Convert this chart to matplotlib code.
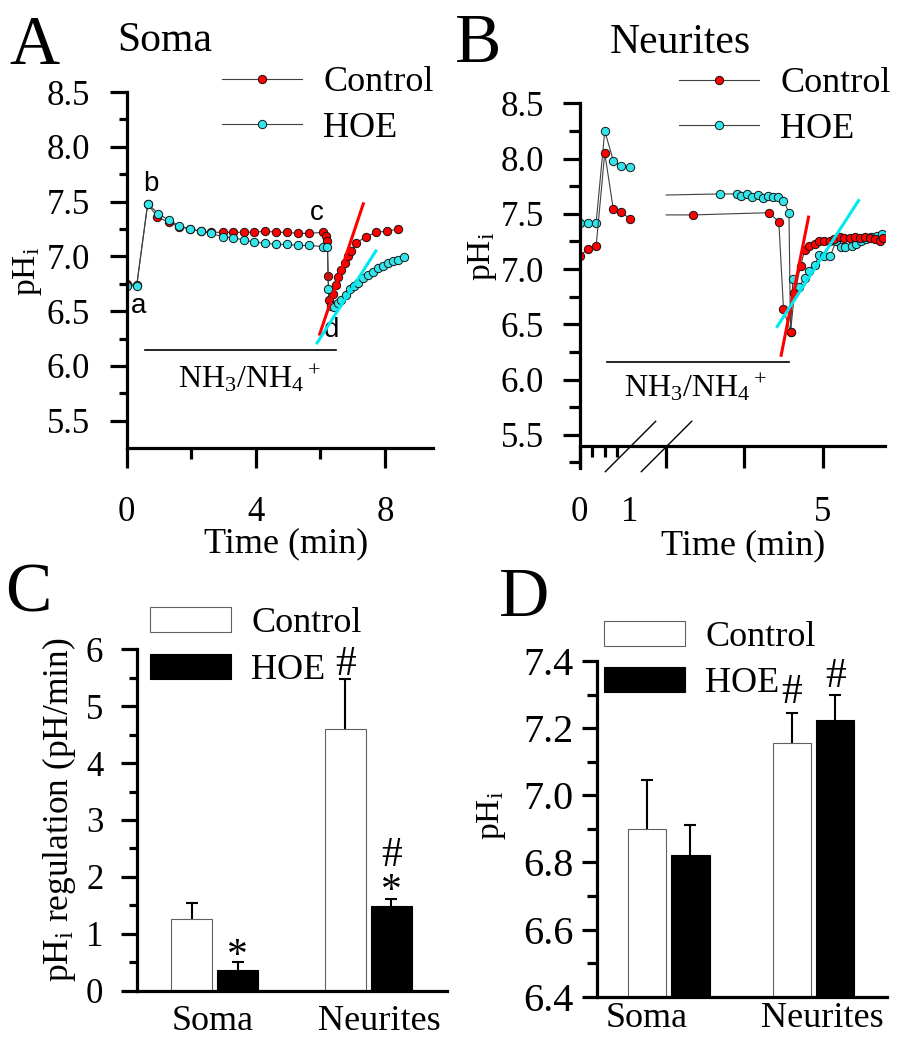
import numpy as np
import matplotlib
matplotlib.use("Agg")
import matplotlib.pyplot as plt

plt.rcParams['font.family'] = ['Liberation Serif', 'DejaVu Serif']
plt.rcParams['mathtext.fontset'] = 'custom'
plt.rcParams['mathtext.rm'] = 'Liberation Serif'
plt.rcParams['mathtext.it'] = 'Liberation Serif:italic'
plt.rcParams['mathtext.bf'] = 'Liberation Serif:bold'

RED = '#ff0000'
CYAN = '#33e5ea'
LINEC = '#404040'

# ---- panel A: soma, time (min) vs pHi ----
soma_t_ctrl = [0, 0.31, 0.65, 0.95, 1.31, 1.63, 1.96, 2.29, 2.61, 2.97, 3.30, 3.63,
               3.95, 4.30, 4.64, 4.97, 5.31, 5.65, 6.09, 6.17, 6.22, 6.24, 6.26, 6.33,
               6.40, 6.47, 6.55, 6.65, 6.75, 6.86, 6.96, 7.09, 7.42, 7.73, 8.07, 8.42]
soma_ph_ctrl = [6.75, 6.74, 7.48, 7.36, 7.31, 7.27, 7.25, 7.23, 7.22, 7.22, 7.22, 7.22,
                7.22, 7.23, 7.22, 7.22, 7.21, 7.21, 7.22, 7.19, 7.14, 6.82, 6.60, 6.56,
                6.66, 6.74, 6.81, 6.88, 6.94, 7.00, 7.05, 7.12, 7.18, 7.22, 7.23, 7.25]
soma_t_hoe = [0, 0.31, 0.65, 0.98, 1.31, 1.63, 1.96, 2.29, 2.61, 2.97, 3.30, 3.63,
              3.95, 4.30, 4.64, 4.97, 5.31, 5.65, 6.07, 6.22, 6.25, 6.33, 6.43, 6.55,
              6.65, 6.79, 6.91, 7.04, 7.17, 7.33, 7.48, 7.64, 7.79, 7.94, 8.10, 8.26,
              8.41, 8.58]
soma_ph_hoe = [6.73, 6.73, 7.48, 7.39, 7.33, 7.28, 7.25, 7.23, 7.21, 7.18, 7.17, 7.15,
               7.13, 7.12, 7.11, 7.11, 7.10, 7.10, 7.09, 7.09, 6.70, 6.55, 6.54, 6.57,
               6.60, 6.65, 6.70, 6.73, 6.76, 6.80, 6.83, 6.86, 6.89, 6.91, 6.94, 6.96,
               6.97, 6.99]
soma_fit_ctrl = ([5.98, 7.33], [6.29, 7.48])
soma_fit_hoe = ([5.90, 7.72], [6.21, 7.05])
soma_nh4 = ([0.57, 6.48], [6.145, 6.145])

# ---- panel B: neurites, split at the axis break ----
# the late parts start where the trace enters from behind the break (t = 3)
neur_t_ctrl_early = [0, 0.17, 0.33, 0.5, 0.67, 0.83, 1.0]
neur_ph_ctrl_early = [7.12, 7.18, 7.21, 8.05, 7.54, 7.52, 7.45]
neur_t_ctrl_late = [3.0, 3.34, 4.31, 4.44, 4.50, 4.59, 4.64, 4.72, 4.77, 4.83, 4.90,
                    4.96, 5.02, 5.09, 5.15, 5.22, 5.28, 5.35, 5.41, 5.48, 5.54, 5.60,
                    5.67, 5.73, 5.77]
neur_ph_ctrl_late = [7.49, 7.49, 7.51, 7.43, 6.64, 6.43, 6.78, 7.03, 7.17, 7.21, 7.23,
                     7.25, 7.25, 7.25, 7.27, 7.29, 7.28, 7.28, 7.29, 7.28, 7.29, 7.28,
                     7.27, 7.25, 7.28]
neur_t_hoe_early = [0, 0.17, 0.33, 0.5, 0.67, 0.83, 1.0]
neur_ph_hoe_early = [7.42, 7.42, 7.42, 8.25, 7.98, 7.93, 7.92]
neur_t_hoe_late = [3.0, 3.69, 3.90, 3.96, 4.03, 4.10, 4.17, 4.24, 4.30, 4.36, 4.43,
                   4.50, 4.57, 4.59, 4.62, 4.70, 4.77, 4.83, 4.90, 4.96, 5.02, 5.10,
                   5.17, 5.23, 5.29, 5.37, 5.43, 5.49, 5.56, 5.62, 5.69, 5.76]
neur_ph_hoe_late = [7.67, 7.68, 7.68, 7.66, 7.68, 7.65, 7.67, 7.64, 7.66, 7.65, 7.65,
                    7.62, 7.51, 6.43, 6.91, 6.84, 6.92, 6.98, 7.04, 7.13, 7.12, 7.12,
                    7.25, 7.20, 7.20, 7.21, 7.23, 7.25, 7.27, 7.29, 7.30, 7.32]
neur_fit_ctrl = ([4.47, 4.82], [6.22, 7.47])
neur_fit_hoe = ([4.42, 5.46], [6.48, 7.62])
neur_nh4 = ([0.55, 4.57], [6.156, 6.156])

# ---- panels C and D ----
groups = ['Soma', 'Neurites']
rate_ctrl = [1.26, 4.60]
rate_ctrl_err = [0.29, 0.88]
rate_hoe = [0.36, 1.48]
rate_hoe_err = [0.15, 0.13]
phi_ctrl = [6.90, 7.155]
phi_ctrl_err = [0.146, 0.09]
phi_hoe = [6.823, 7.225]
phi_hoe_err = [0.088, 0.074]

W, H = 902, 1050
TICK_FS = 25
fig = plt.figure(figsize=(W / 100, H / 100), dpi=100)


def add_axes_px(l, t, r, b):
    return fig.add_axes([l / W, 1 - b / H, (r - l) / W, (b - t) / H])


def fig_text(x, y, s, **kw):
    fig.text(x / W, 1 - y / H, s, **kw)


def style(ax):
    for s in ('top', 'right'):
        ax.spines[s].set_visible(False)
    for s in ('left', 'bottom'):
        ax.spines[s].set_linewidth(2.3)
    ax.tick_params(which='both', direction='out', width=2.3, labelsize=TICK_FS)


def trace(ax, t, ph, color, **kw):
    return ax.plot(t, ph, '-', color=LINEC, lw=0.8, marker='o', ms=6.0,
                   mfc=color, mec='#151515', mew=0.7, **kw)[0]


def trace_legend(ax, handles, x, y):
    ax.legend(handles, ['Control', 'HOE'], loc='upper left',
              bbox_to_anchor=(x / W, 1 - y / H), bbox_transform=fig.transFigure,
              frameon=False, fontsize=26, handlelength=2.22, handletextpad=0.58,
              labelspacing=0.34, borderpad=0, borderaxespad=0, numpoints=1)


ph_fmt = matplotlib.ticker.FormatStrFormatter('%.1f')

# ---------------- A ----------------
axA = add_axes_px(126.7, 92.1, 433, 447.5)
style(axA)
hA_c = trace(axA, soma_t_ctrl, soma_ph_ctrl, RED)
hA_h = trace(axA, soma_t_hoe, soma_ph_hoe, CYAN)
axA.plot(*soma_fit_ctrl, color=RED, lw=2.2, zorder=4)
axA.plot(*soma_fit_hoe, color='#00e8f0', lw=2.2, zorder=4)
axA.plot(*soma_nh4, color='k', lw=1.2)
axA.text(3.80, 5.80, r'NH$_3$/NH$_4{}^+$', ha='center', va='baseline', fontsize=23)
for s, tx, ty in [('a', 0.38, 6.48), ('b', 0.75, 7.60), ('c', 5.89, 7.33), ('d', 6.35, 6.26)]:
    axA.text(tx, ty, s, family='Liberation Sans', fontsize=20, ha='center', va='baseline')
axA.set_xlim(0, 9.49)
axA.set_ylim(5.255, 8.5)
axA.set_xticks([0, 4, 8])
axA.set_xticks([2, 6], minor=True)
axA.set_yticks(np.arange(5.5, 8.51, 0.5))
axA.set_yticks(np.arange(5.75, 8.3, 0.5), minor=True)
axA.yaxis.set_major_formatter(ph_fmt)
axA.tick_params(axis='x', which='major', length=14.7, pad=20.5)
axA.tick_params(axis='x', which='minor', length=8.2)
axA.tick_params(axis='y', which='major', length=12.2, pad=14.2)
axA.tick_params(axis='y', which='minor', length=6.1)
axA.set_xlabel('Time (min)', fontsize=26)
axA.xaxis.set_label_coords(0.522, -0.224)
axA.set_ylabel(r'pH$_\mathrm{i}$', fontsize=24)
axA.yaxis.set_label_coords(-0.27, 0.495)
trace_legend(axA, [hA_c, hA_h], 222, 66)


# ---------------- B (broken time axis) ----------------
def brk_fwd(t):
    t = np.asarray(t, float)
    return np.where(t <= 1, 50.5 * t,
                    np.where(t <= 3, 50.5 + 18.1 * (t - 1), 86.7 + 78.2 * (t - 3)))


def brk_inv(u):
    u = np.asarray(u, float)
    return np.where(u <= 50.5, u / 50.5,
                    np.where(u <= 86.7, 1 + (u - 50.5) / 18.1, 3 + (u - 86.7) / 78.2))


axB = add_axes_px(579.5, 103.3, 885, 468)
style(axB)
axB.set_xscale('function', functions=(brk_fwd, brk_inv))
hB_h = trace(axB, neur_t_hoe_early, neur_ph_hoe_early, CYAN)
trace(axB, neur_t_hoe_late, neur_ph_hoe_late, CYAN, markevery=slice(1, None))
hB_c = trace(axB, neur_t_ctrl_early, neur_ph_ctrl_early, RED)
trace(axB, neur_t_ctrl_late, neur_ph_ctrl_late, RED, markevery=slice(1, None))
axB.plot(*neur_fit_ctrl, color=RED, lw=2.2, zorder=4)
axB.plot(*neur_fit_hoe, color='#00e8f0', lw=2.2, zorder=4)
axB.plot(*neur_nh4, color='k', lw=1.2)
axB.text(3.37, 5.85, r'NH$_3$/NH$_4{}^+$', ha='center', va='baseline', fontsize=23)
axB.set_xlim(0, 5.798)
axB.set_ylim(5.2, 8.5)
axB.spines['bottom'].set_position(('data', 5.40))
# break marks on the time axis
axB.plot([1, 3], [5.40, 5.40], ls='none', marker=[(-1, -1), (1, 1)], ms=37,
         mec='k', mew=1.0, clip_on=False, zorder=5)
axB.set_xticks([0, 1, 3, 4, 5])
axB.set_xticklabels(['0', '1', '', '', '5'])
axB.set_xticks([0.25, 0.5, 0.75], minor=True)
axB.xaxis.set_minor_formatter(matplotlib.ticker.NullFormatter())
axB.xaxis.get_major_ticks()[1].tick1line.set_visible(False)
axB.set_yticks(np.arange(5.5, 8.51, 0.5))
axB.set_yticks(np.arange(5.25, 8.3, 0.5), minor=True)
axB.yaxis.set_major_formatter(ph_fmt)
axB.tick_params(axis='x', which='major', length=15.6, pad=20.3)
axB.tick_params(axis='x', which='minor', length=7.7)
axB.tick_params(axis='y', which='major', length=11.9, pad=13.8)
axB.tick_params(axis='y', which='minor', length=7.9)
axB.set_xlabel('Time (min)', fontsize=26)
axB.xaxis.set_label_coords(0.537, -0.167)
axB.set_ylabel(r'pH$_\mathrm{i}$', fontsize=24)
axB.yaxis.set_label_coords(-0.263, 0.58)
trace_legend(axB, [hB_c, hB_h], 679, 67)


# ---------------- C and D (bars) ----------------
def bar_panel(ax, ctrl, ctrl_err, hoe, hoe_err):
    x = np.arange(len(groups))
    bw, off = 0.265, 0.15
    bc = ax.bar(x - off, ctrl, bw, color='white', edgecolor='#606060', lw=0.8)
    bh = ax.bar(x + off, hoe, bw, color='black', edgecolor='black', lw=0.8)
    for xs, v, e in [(x - off, ctrl, ctrl_err), (x + off, hoe, hoe_err)]:
        eb = ax.errorbar(xs, v, yerr=[np.zeros(len(v)), e], fmt='none', ecolor='k',
                         elinewidth=1.5, capsize=4.4, capthick=1.5)
        eb[1][0].set_visible(False)
    return x, off, bc, bh


def bar_legend(ax, handles, x, y, spacing):
    ax.legend(handles, ['Control', 'HOE'], loc='upper left',
              bbox_to_anchor=(x / W, 1 - y / H), bbox_transform=fig.transFigure,
              frameon=False, fontsize=26, handlelength=2.24, handleheight=0.7,
              handletextpad=0.56, labelspacing=spacing, borderpad=0, borderaxespad=0)


axC = add_axes_px(136.7, 649.3, 446.7, 990.7)
style(axC)
x, off, bc, bh = bar_panel(axC, rate_ctrl, rate_ctrl_err, rate_hoe, rate_hoe_err)
tops_c = np.add(rate_ctrl, rate_ctrl_err)
tops_h = np.add(rate_hoe, rate_hoe_err)
mk = dict(textcoords='offset points', ha='center', va='baseline', fontsize=30)
axC.annotate('#', (x[1] - off, tops_c[1]), xytext=(0, 3), **mk)
axC.annotate('*', (x[0] + off, tops_h[0]), xytext=(0, -4), **mk)
axC.annotate('*', (x[1] + off, tops_h[1]), xytext=(0, -2), **mk)
axC.annotate('#', (x[1] + off, tops_h[1]), xytext=(0, 24), **mk)
axC.set_xlim(-0.508, 1.51)
axC.set_ylim(0, 6)
axC.set_yticks(range(0, 7))
axC.set_yticks(np.arange(0.5, 6, 1), minor=True)
axC.set_xticks(x + np.array([-0.011, 0.07]))
axC.set_xticklabels(groups)
axC.tick_params(axis='x', length=0, pad=10.5, labelsize=26)
axC.tick_params(axis='y', which='major', length=11.5, pad=12.5)
axC.tick_params(axis='y', which='minor', length=6)
axC.set_ylabel(r'pH$_\mathrm{i}$ regulation (pH/min)', fontsize=25.5)
axC.yaxis.set_label_coords(-0.19, 0.529)
bar_legend(axC, [bc, bh], 150, 607, 0.37)

axD = add_axes_px(596.7, 661, 886.7, 996.7)
style(axD)
x, off, bc, bh = bar_panel(axD, phi_ctrl, phi_ctrl_err, phi_hoe, phi_hoe_err)
tops_c = np.add(phi_ctrl, phi_ctrl_err)
tops_h = np.add(phi_hoe, phi_hoe_err)
axD.annotate('#', (x[1] - off, tops_c[1]), xytext=(0, 7), **mk)
axD.annotate('#', (x[1] + off, tops_h[1]), xytext=(0, 6), **mk)
axD.set_xlim(-0.498, 1.506)
axD.set_ylim(6.4, 7.4)
axD.set_yticks(np.arange(6.4, 7.41, 0.2))
axD.set_yticks(np.arange(6.5, 7.4, 0.2), minor=True)
axD.yaxis.set_major_formatter(ph_fmt)
axD.set_xticks(x + np.array([-0.153, 0.062]))
axD.set_xticklabels(groups)
axD.tick_params(axis='x', length=0, pad=4.0, labelsize=26)
axD.tick_params(axis='y', which='major', length=10.8, pad=6, labelsize=29)
axD.tick_params(axis='y', which='minor', length=7.2)
axD.set_ylabel(r'pH$_\mathrm{i}$', fontsize=24)
axD.yaxis.set_label_coords(-0.305, 0.541)
bar_legend(axD, [bc, bh], 604, 620.7, 0.36)

# panel letters and titles
for s, px, py in [('A', 34, 64), ('B', 478, 62), ('C', 28, 612), ('D', 524, 616)]:
    fig_text(px, py, s, fontsize=50, ha='center', va='baseline')
fig_text(164.5, 51, 'Soma', fontsize=30, ha='center', va='baseline')
fig_text(680, 53, 'Neurites', fontsize=30, ha='center', va='baseline')

fig.savefig('out.png', dpi=100)
